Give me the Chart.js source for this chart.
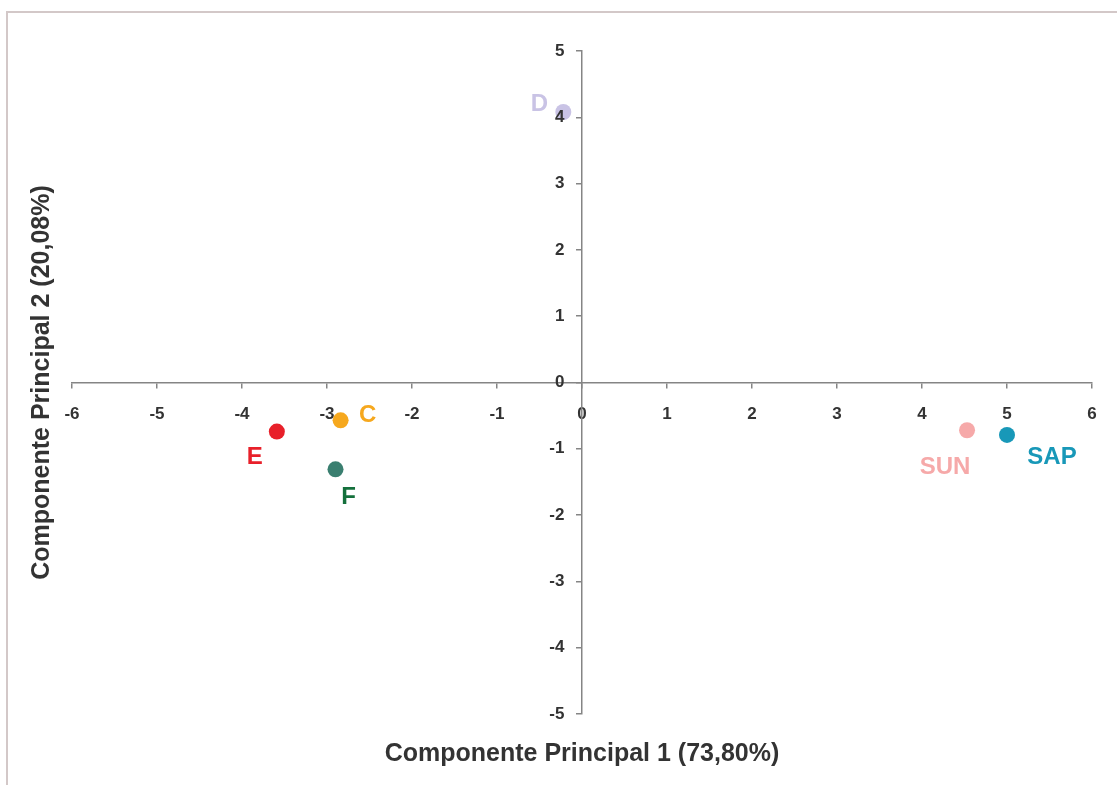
<!DOCTYPE html>
<html>
<head>
<meta charset="utf-8">
<script src="https://cdn.jsdelivr.net/npm/chart.js@4/dist/chart.umd.min.js"></script>
<style>
  body { margin: 0; background: #fff; overflow: hidden; }
  #frame { position: absolute; left: 6px; top: 11px; width: 1200px; height: 900px;
           border-left: 2px solid #d3c8c8; border-top: 2px solid #d3c8c8; }
  #box { position: absolute; left: 0; top: 0; width: 1117px; height: 785px; }
</style>
</head>
<body>
<div id="frame"></div>
<div id="box"><canvas id="pcaChart"></canvas></div>
<script>
// scores on the first two principal components
var names = ['D', 'C', 'E', 'F', 'SUN', 'SAP'];
var pc1 = [-0.22, -2.84, -3.59, -2.90, 4.53, 5.00];
var pc2 = [4.08, -0.57, -0.74, -1.31, -0.72, -0.79];
var xTitle = 'Componente Principal 1 (73,80%)';
var yTitle = 'Componente Principal 2 (20,08%)';

// marker / label colours and label placement (px from the point)
var dotColors = ['#c9c3e5', '#f6a81e', '#e8202a', '#3a7f70', '#f6a9a9', '#1898b8'];
var textColors = ['#c9c3e5', '#f6a81e', '#e8202a', '#14703c', '#f6a9a9', '#1898b8'];
var labelDx = [-24, 27, -22, 13, -22, 45];
var labelDy = [-1, 2, 32, 35, 44, 29];

var FONT = "'Liberation Sans', Arial, sans-serif";

var pointLabels = {
    id: 'pointLabels',
    afterDatasetsDraw: function(chart) {
        var ctx = chart.ctx;
        var meta = chart.getDatasetMeta(0);
        ctx.save();
        ctx.font = 'bold 24px ' + FONT;
        ctx.textAlign = 'center';
        ctx.textBaseline = 'alphabetic';
        meta.data.forEach(function(pt, i) {
            ctx.fillStyle = textColors[i];
            ctx.fillText(names[i], pt.x + labelDx[i], pt.y + labelDy[i]);
        });
        ctx.restore();
    }
};

var points = names.map(function(n, i) {
    return {x: pc1[i], y: pc2[i]};
});

var ctx = document.getElementById('pcaChart').getContext('2d');
var pcaChart = new Chart(ctx, {
    type: 'scatter',
    data: {
        datasets: [{
            data: points,
            pointRadius: 8,
            pointHoverRadius: 8,
            pointBorderWidth: 0,
            pointBackgroundColor: dotColors,
            pointBorderColor: dotColors
        }]
    },
    options: {
        responsive: true,
        maintainAspectRatio: false,
        animation: false,
        layout: {
            autoPadding: false,
            padding: {left: 27, right: 25, top: 51, bottom: 16}
        },
        plugins: {
            legend: {display: false},
            tooltip: {enabled: false},
            title: {
                display: true,
                text: xTitle,
                position: 'bottom',
                fullSize: false,
                color: '#333333',
                font: {family: FONT, size: 25, weight: 'bold', lineHeight: 1.2},
                padding: {top: 25, bottom: 0}
            },
            subtitle: {
                display: true,
                text: yTitle,
                position: 'left',
                fullSize: false,
                color: '#333333',
                font: {family: FONT, size: 25, weight: 'bold', lineHeight: 1.2},
                padding: {top: 0, bottom: 15}
            }
        },
        scales: {
            x: {
                type: 'linear',
                min: -6,
                max: 6,
                position: {y: 0},
                grid: {drawOnChartArea: false, drawTicks: true, tickLength: 5, color: '#858585', lineWidth: 1.5},
                border: {color: '#858585', width: 1.5},
                ticks: {stepSize: 1, color: '#333333', padding: 17, font: {family: FONT, size: 17, weight: 'bold'}}
            },
            y: {
                type: 'linear',
                min: -5,
                max: 5,
                position: {x: 0},
                grid: {drawOnChartArea: false, drawTicks: true, tickLength: 5, color: '#858585', lineWidth: 1.5},
                border: {color: '#858585', width: 1.5},
                ticks: {
                    z: 1,   // the "4" is printed over point D
                    stepSize: 1,
                    color: '#333333',
                    font: {family: FONT, size: 17, weight: 'bold'},
                    // labels of a centred y axis sit right on the line; pad them off it
                    callback: function(v) { return v + '   \u2009'; }
                }
            }
        }
    },
    plugins: [pointLabels]
});
</script>
</body>
</html>
